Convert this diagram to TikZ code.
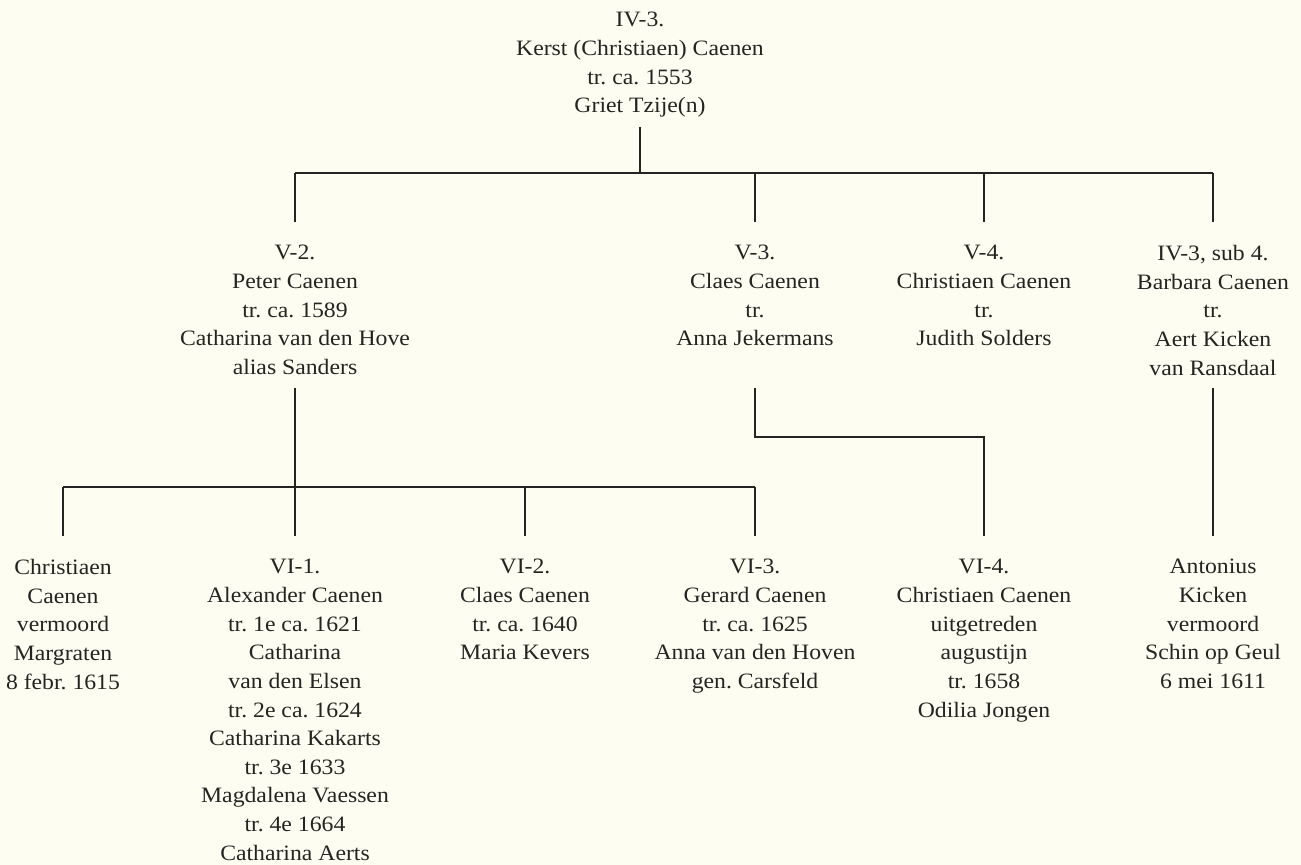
\documentclass[tikz,border=0pt]{standalone}
\usepackage{fontspec}
\setmainfont{Liberation Serif}[FakeStretch=1.08]
\usepackage{tikz}
\frenchspacing
\definecolor{paper}{RGB}{254,253,241}
\definecolor{ink}{RGB}{38,36,34}

\begin{document}
\begin{tikzpicture}[x=0.02cm, y=-0.02cm,
  every node/.style={align=center, inner sep=0pt, anchor=north, text=ink, font=\fontsize{12.5}{16.3}\selectfont},
  tie/.style={draw=ink, line width=0.65pt},
  drop/.style={tie, shorten >=13pt}]
\fill[paper] (0,0) rectangle (1301,865);

\node (kerst) at (640,12) {IV-3.\\Kerst (Christiaen) Caenen\\tr. ca. 1553\\Griet Tzije(n)};

\node (peter) at (295,245) {V-2.\\Peter Caenen\\tr. ca. 1589\\Catharina van den Hove\\alias Sanders};
\node (claes) at (755,245) {V-3.\\Claes Caenen\\tr.\\Anna Jekermans};
\node (christiaen) at (984,245) {V-4.\\Christiaen Caenen\\tr.\\Judith Solders};
\node (barbara) at (1213,245) {IV-3, sub 4.\\Barbara Caenen\\tr.\\Aert Kicken\\van Ransdaal};

\node (margraten) at (63,559) {Christiaen\\Caenen\\vermoord\\Margraten\\8 febr. 1615};
\node (alexander) at (295,559) {VI-1.\\Alexander Caenen\\tr. 1e ca. 1621\\Catharina\\van den Elsen\\tr. 2e ca. 1624\\Catharina Kakarts\\tr. 3e 1633\\Magdalena Vaessen\\tr. 4e 1664\\Catharina Aerts};
\node (claesvi) at (525,559) {VI-2.\\Claes Caenen\\tr. ca. 1640\\Maria Kevers};
\node (gerard) at (755,559) {VI-3.\\Gerard Caenen\\tr. ca. 1625\\Anna van den Hoven\\gen. Carsfeld};
\node (odilia) at (984,559) {VI-4.\\Christiaen Caenen\\uitgetreden\\augustijn\\tr. 1658\\Odilia Jongen};
\node (antonius) at (1213,559) {Antonius\\Kicken\\vermoord\\Schin op Geul\\6 mei 1611};

\coordinate (rail0) at (0,173);
\coordinate (stem) at (0,388);
\coordinate (jog) at (0,437);
\coordinate (rail1) at (0,487);

\draw[tie, shorten <=5pt] (kerst.south) -- (kerst |- rail0);
\draw[tie] (peter |- rail0) -- (barbara |- rail0);
\draw[drop] (peter |- rail0) -- (peter.north);
\draw[drop] (claes |- rail0) -- (claes.north);
\draw[drop] (christiaen |- rail0) -- (christiaen.north);
\draw[drop] (barbara |- rail0) -- (barbara.north);

\draw[tie] (peter |- stem) -- (peter |- rail1);
\draw[tie] (margraten |- rail1) -- (gerard |- rail1);
\draw[drop] (margraten |- rail1) -- (margraten.north);
\draw[drop] (alexander |- rail1) -- (alexander.north);
\draw[drop] (claesvi |- rail1) -- (claesvi.north);
\draw[drop] (gerard |- rail1) -- (gerard.north);

\draw[drop] (claes |- stem) -- (claes |- jog) -- (odilia |- jog) -- (odilia.north);
\draw[drop] (barbara |- stem) -- (antonius.north);
\end{tikzpicture}
\end{document}
